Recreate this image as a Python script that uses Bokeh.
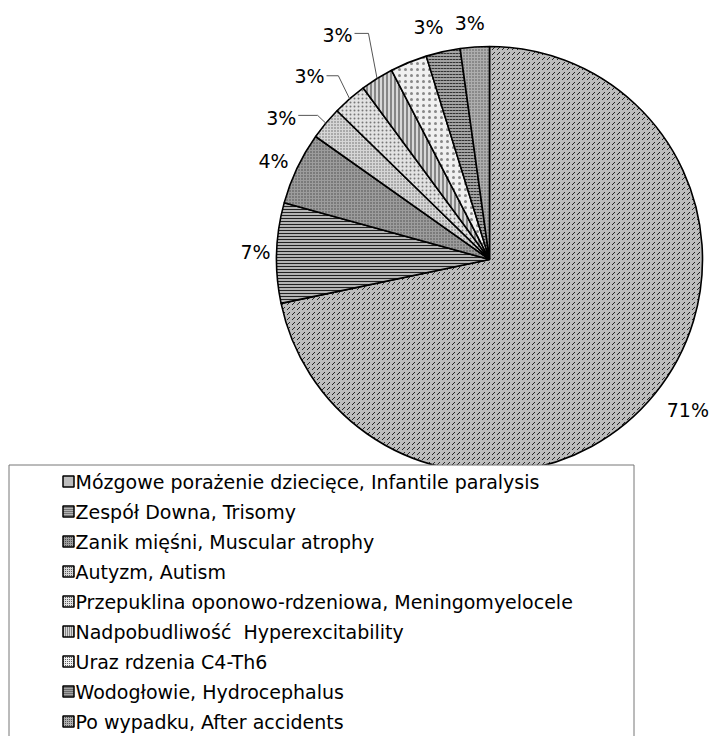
import numpy as np
from bokeh.plotting import figure
from bokeh.models import ColumnDataSource, Range1d
from bokeh.core.properties import value
from bokeh.embed import file_html
from bokeh.resources import INLINE

# ---- data ----
categories = [
    "Mózgowe porażenie dziecięce, Infantile paralysis",
    "Zespół Downa, Trisomy",
    "Zanik mięśni, Muscular atrophy",
    "Autyzm, Autism",
    "Przepuklina oponowo-rdzeniowa, Meningomyelocele",
    "Nadpobudliwość\u00a0 Hyperexcitability",
    "Uraz rdzenia C4-Th6",
    "Wodogłowie, Hydrocephalus",
    "Po wypadku, After accidents",
]
shares = [71.7, 7.6, 5.5, 2.5, 2.6, 2.5, 2.8, 2.6, 2.2]
pct_labels = ["71%", "7%", "4%", "3%", "3%", "3%", "", "3%", "3%"]

# ---- styles ----
fills = ["#bdbdbd", "#b4b4b4", "#9c9c9c", "#d6d6d6", "#e2e2e2", "#d8d8d8", "#f0f0f0", "#a2a2a2", "#aeaeae"]
hatches = ["right_diagonal_dash", "horizontal_line", "dot", "dot", "dot", "vertical_line", "dot", "horizontal_dash", "dot"]
hatch_scales = [5, 3, 3, 3, 4, 4, 6, 3, 3]
hatch_colors = ["#222222", "#222222", "#444444", "#666666", "#777777", "#333333", "#888888", "#333333", "#555555"]
lab_r = [1.17, 1.099, 1.115, 1.183, 1.207, 1.271, 0, 1.127, 1.113]
lab_dang = [1.8, 0.0, 0.8, 5.5, 3.4, 2.3, 0, 2.1, 0.8]
lead_r = {3: 1.053, 4: 1.117, 5: 1.204}
lead_dang = {3: -0.2, 4: -1.6, 5: -3.7}

W, H = 709, 736
CX, CY, R = 489, 477, 213
FONT = value("DejaVu Sans")

p = figure(width=W, height=H, output_backend="svg", toolbar_location=None,
           x_range=Range1d(0, W), y_range=Range1d(0, H), min_border=0)
p.axis.visible = False
p.grid.visible = False
p.outline_line_color = None
p.background_fill_color = "white"

sh = np.array(shares, dtype=float)
cum = np.concatenate([[0], np.cumsum(sh)]) / sh.sum() * 360.0
start = 90 - cum[:-1]
end = 90 - cum[1:]
mid = (start + end) / 2

src = ColumnDataSource(dict(start=np.radians(start), end=np.radians(end), fill=fills,
                            hatch=hatches, hs=hatch_scales, hc=hatch_colors))
p.wedge(x=CX, y=CY, radius=R, start_angle="start", end_angle="end", direction="clock",
        source=src, fill_color="fill", hatch_pattern="hatch", hatch_scale="hs",
        hatch_color="hc", hatch_weight=1, line_color="black", line_width=1.6)

# labels
lx, ly, lt = [], [], []
for i, t in enumerate(pct_labels):
    if not t:
        continue
    a = np.radians(mid[i] + lab_dang[i])
    lx.append(CX + lab_r[i] * R * np.cos(a))
    ly.append(CY + lab_r[i] * R * np.sin(a))
    lt.append(t)
p.text(x=lx, y=ly, text=lt, text_align="center", text_baseline="middle",
       text_font=FONT, text_font_size="19px", text_color="black")

# leader lines
xs, ys = [], []
for i in lead_r:
    a0 = np.radians(mid[i])
    px, py = CX + R * np.cos(a0), CY + R * np.sin(a0)
    a1 = np.radians(mid[i] + lead_dang[i])
    ex, ey = CX + lead_r[i] * R * np.cos(a1), CY + lead_r[i] * R * np.sin(a1)
    al = np.radians(mid[i] + lab_dang[i])
    labx = CX + lab_r[i] * R * np.cos(al) + 17
    xs.append([px, ex, labx])
    ys.append([py, ey, ey])
p.multi_line(xs=xs, ys=ys, line_color="#555555", line_width=1)

# legend box
p.quad(left=8.5, right=633.5, top=271.5, bottom=-10, fill_color="white",
       line_color="#777777", line_width=1)
n = len(categories)
rows_y = [255 - 30 * i for i in range(n)]
p.rect(x=[68] * n, y=rows_y, width=11, height=11, fill_color=fills,
       hatch_pattern=hatches, hatch_scale=2, hatch_color="#333333",
       line_color="black", line_width=1.5)
p.text(x=[75] * n, y=rows_y, text=categories, text_align="left", text_baseline="middle",
       text_font=FONT, text_font_size="19px", text_color="black")

open("out.html", "w").write(file_html(p, INLINE))
